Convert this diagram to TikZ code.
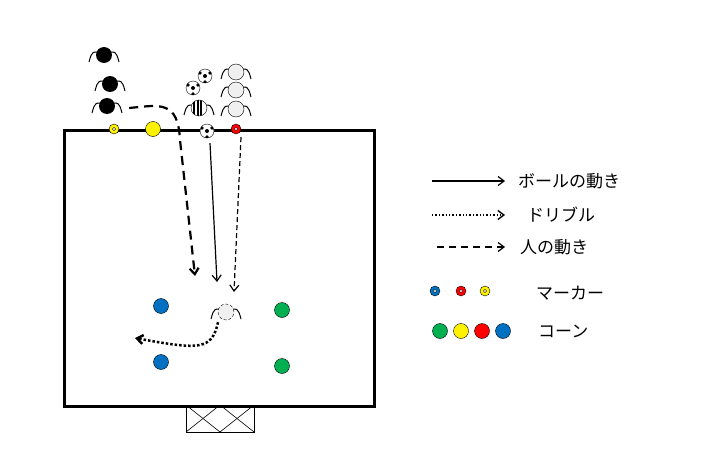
\documentclass[tikz,border=0pt]{standalone}
\usepackage{fontspec}
\newfontfamily\cjk{Noto Sans CJK JP}
\usetikzlibrary{arrows.meta}
\begin{document}
\begin{tikzpicture}[x=1pt,y=-1pt,
  tip/.style={-{Straight Barb[length=6pt,width=9pt]}},
  lbl/.style={font=\cjk\fontsize{17}{17}\selectfont,anchor=west,inner sep=0},
  cone/.style={circle,draw=black,inner sep=0,minimum size=15pt},
  mrk/.style={circle,draw=black,inner sep=0,minimum size=10pt,path picture={\fill[white] (path picture bounding box.center) circle (1.6pt); \draw[black,line width=0.4pt] (path picture bounding box.center) circle (1.6pt);}},
  ball/.style={circle,draw=black,fill=white,inner sep=0,minimum size=14pt,path picture={\fill[black] (path picture bounding box.center) circle (2pt); \fill[black] ([shift={(-5pt,3pt)}]path picture bounding box.center) circle (1.8pt);\fill[black] ([shift={(5pt,3pt)}]path picture bounding box.center) circle (1.8pt);\fill[black] ([shift={(0pt,-6pt)}]path picture bounding box.center) circle (1.8pt);}},
]
\path[use as bounding box] (0,0) rectangle (701,460);
\newcommand{\person}[4]{% name, x, y, style
  \draw[line width=1pt] (#2,#3)++(-15,7) .. controls (#2-12,#3-4) .. (#2,#3-2) .. controls (#2+12,#3-4) .. (#2+15,#3+7);
  \node[circle,minimum size=16pt,inner sep=0,#4] (#1) at (#2,#3) {};}
% goal
\node[draw,minimum width=68pt,minimum height=27pt,inner sep=0,anchor=north west] (goal) at (186,405) {};
\begin{scope}
\clip (goal.north west) rectangle (goal.south east);
\foreach \k in {-3,...,3}{
  \draw[line width=0.6pt] (186+34*\k,405) -- ++(68,54);
  \draw[line width=0.6pt] (254+34*\k,405) -- ++(-68,54);}
\end{scope}
% field
\node[draw,line width=2.5pt,minimum width=310pt,minimum height=276pt,inner sep=0,anchor=north west] (field) at (63,129) {};
% players
\person{b1}{104}{55}{fill=black}
\person{b2}{110}{84}{fill=black}
\person{b3}{107}{106}{fill=black}
\person{w1}{236}{72}{draw,fill=black!6}
\person{w2}{236}{90}{draw,fill=black!6}
\person{w3}{236}{109}{draw,fill=black!6}
\person{s1}{199}{108}{draw,fill=white,path picture={\foreach \i in {-6,-2.5,1}{\fill[black] ([xshift=\i pt]path picture bounding box.center) rectangle ++(2pt,-10pt);\fill[black] ([xshift=\i pt]path picture bounding box.center) rectangle ++(2pt,10pt);}}}
\person{c}{226}{312}{draw,densely dashed,fill=black!6}
\node[ball] (ba1) at (205,76) {};
\node[ball] (ba2) at (193,88) {};
\node[ball] (ba3) at (207,131) {};
% markers / cones
\node[mrk,fill=yellow] (m1) at (114,129) {};
\node[cone,fill=yellow] (k1) at (153,129) {};
\node[mrk,fill=red] (m2) at (236,129) {};
\node[cone,fill={rgb,255:red,0;green,112;blue,192}] (k2) at (161,306) {};
\node[cone,fill={rgb,255:red,0;green,112;blue,192}] (k3) at (161,362) {};
\node[cone,fill={rgb,255:red,0;green,176;blue,80}] (k4) at (282,310) {};
\node[cone,fill={rgb,255:red,0;green,176;blue,80}] (k5) at (282,366) {};
% movements
\coordinate (pe) at (195,276);
\draw[line width=2.2pt,dash pattern=on 9pt off 6pt,tip] (b3.east)++(14,2) .. controls (160,105) and (178,100) .. (180,140) -- (pe);
\coordinate (be) at (217,282);
\draw[line width=1.2pt,tip] (ba3.south) ++(3,5) -- (be);
\coordinate (we) at (234,292);
\draw[line width=1.2pt,dash pattern=on 5pt off 3pt,tip] (m2.south)++(5,3) -- (we);
\coordinate (de) at (135,338);
\draw[line width=2.5pt,dotted,tip] (c.south)++(-8,2) .. controls (212,350) and (200,350) .. (de);
% legend
\coordinate (l1a) at (432,181); \coordinate (l1b) at (505,181);
\draw[line width=1.2pt,tip] (l1a) -- (l1b);
\node[lbl] (t1) at (518,181) {ボールの動き};
\coordinate (l2a) at (432,215); \coordinate (l2b) at (505,215);
\draw[line width=1.4pt,dotted,tip] (l2a) -- (l2b);
\node[lbl] (t2) at (527,215) {ドリブル};
\coordinate (l3a) at (437,247); \coordinate (l3b) at (505,247);
\draw[line width=1.2pt,dash pattern=on 7pt off 5pt,tip] (l3a) -- (l3b);
\node[lbl] (t3) at (520,247) {人の動き};
\node[mrk,fill={rgb,255:red,0;green,112;blue,192}] (lm1) at (435,291) {};
\node[mrk,fill=red] (lm2) at (461,291) {};
\node[mrk,fill=yellow] (lm3) at (485,291) {};
\node[lbl] (t4) at (536,293) {マーカー};
\node[cone,fill={rgb,255:red,0;green,176;blue,80}] (lc1) at (440,331) {};
\node[cone,fill=yellow] (lc2) at (461,331) {};
\node[cone,fill=red] (lc3) at (482,331) {};
\node[cone,fill={rgb,255:red,0;green,112;blue,192}] (lc4) at (503,331) {};
\node[lbl] (t5) at (538,331) {コーン};
\end{tikzpicture}
\end{document}
